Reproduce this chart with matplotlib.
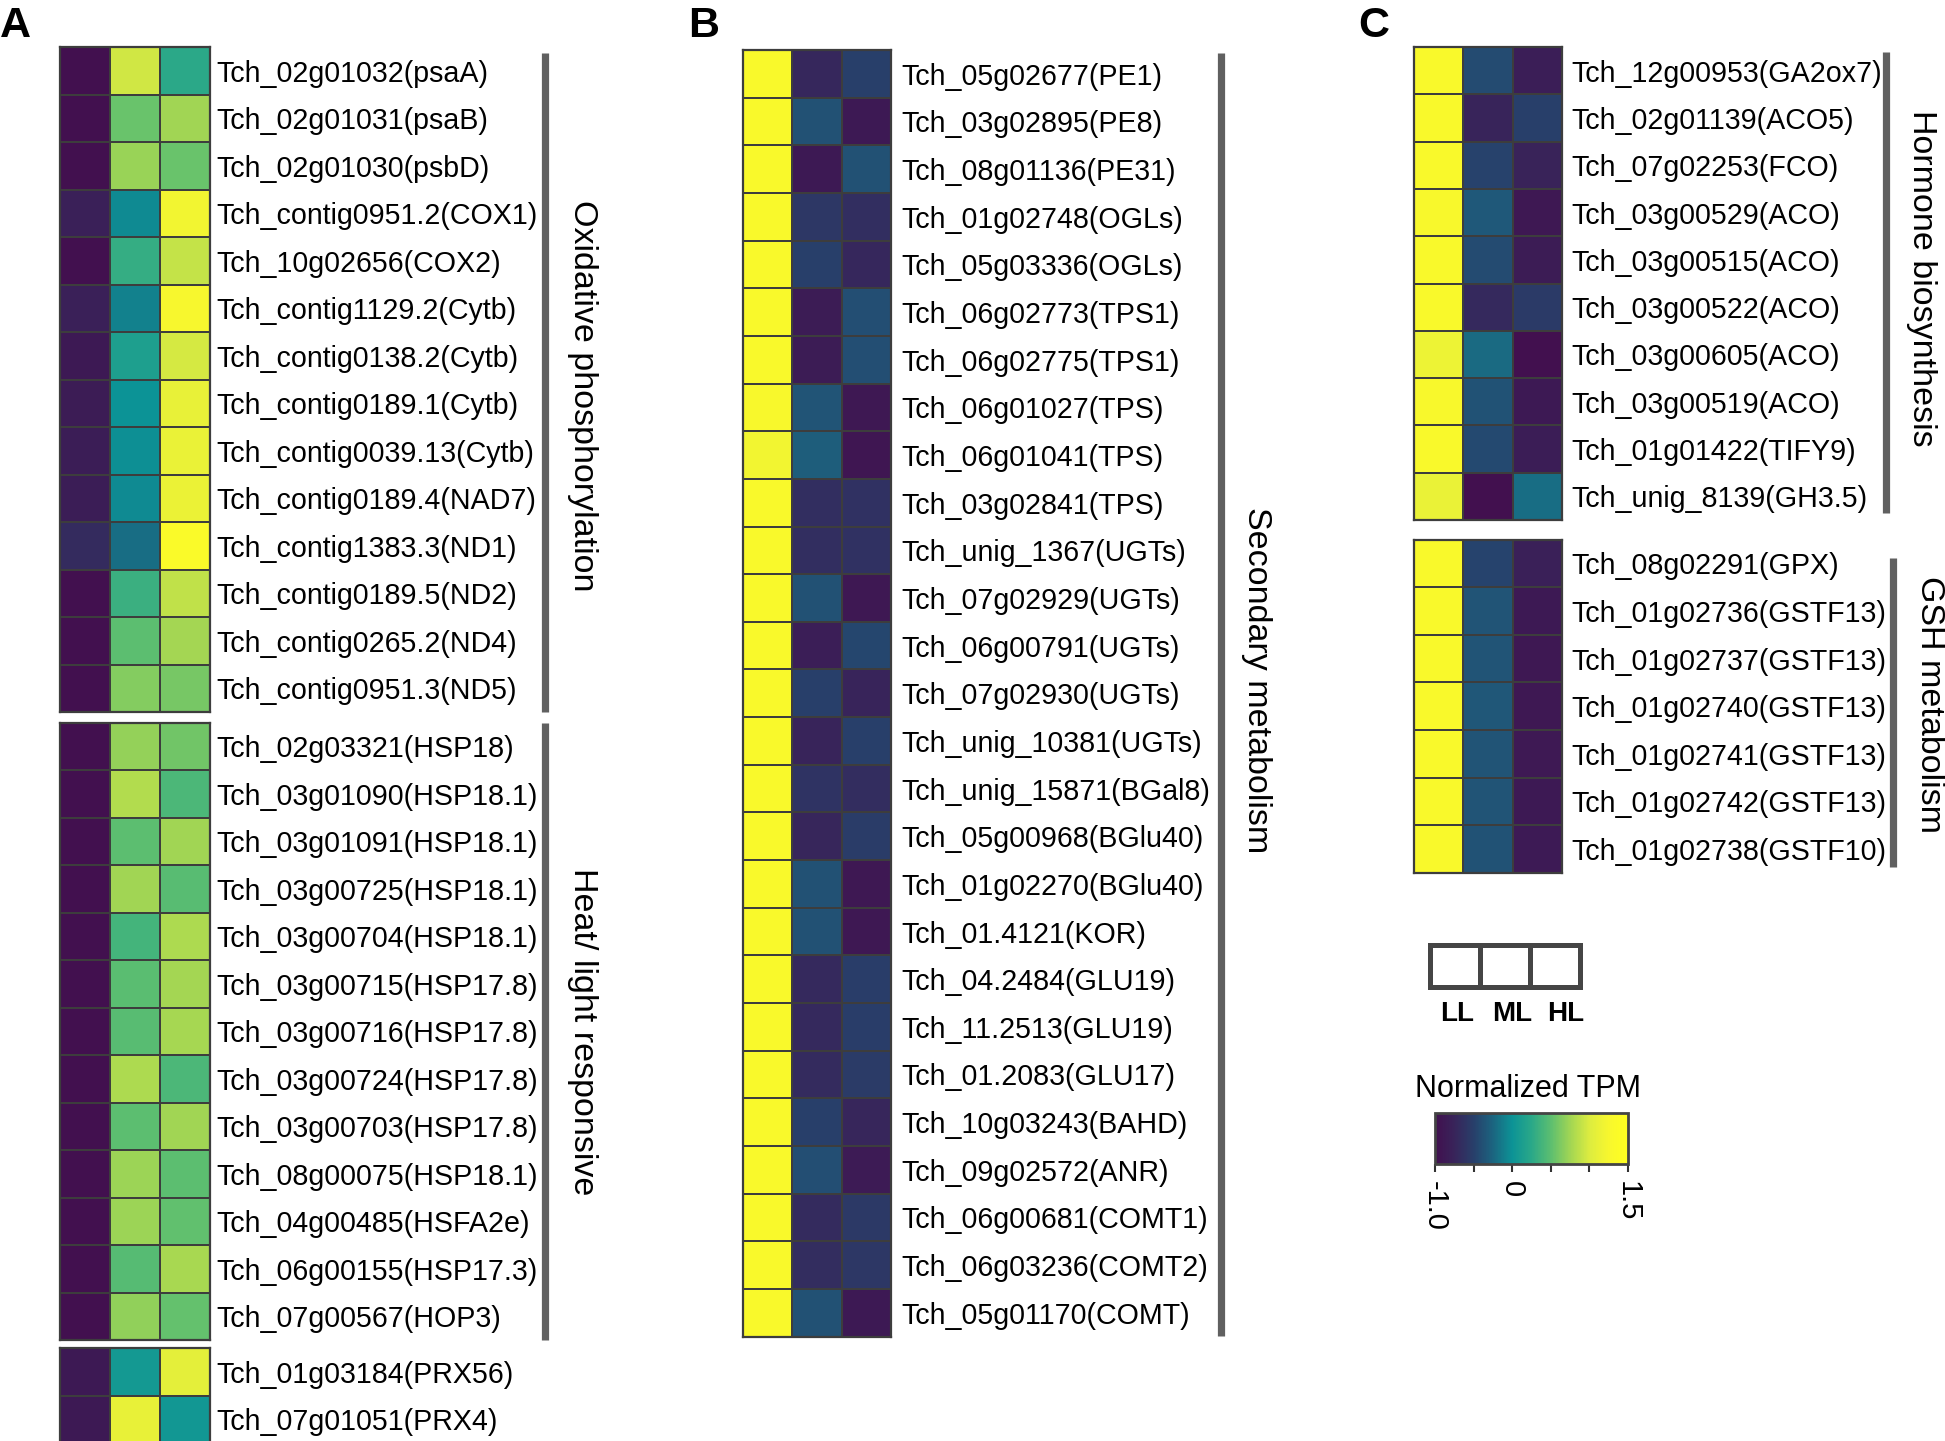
import numpy as np
import matplotlib
matplotlib.use("Agg")
import matplotlib.pyplot as plt
from matplotlib.colors import LinearSegmentedColormap, Normalize
from matplotlib.cm import ScalarMappable
from matplotlib.patches import Rectangle

plt.rcParams['font.family'] = ['Liberation Sans', 'DejaVu Sans']

# ---------------- data ----------------
conditions = ["LL", "ML", "HL"]

oxphos_genes = ["Tch_02g01032(psaA)", "Tch_02g01031(psaB)", "Tch_02g01030(psbD)",
                "Tch_contig0951.2(COX1)", "Tch_10g02656(COX2)", "Tch_contig1129.2(Cytb)",
                "Tch_contig0138.2(Cytb)", "Tch_contig0189.1(Cytb)", "Tch_contig0039.13(Cytb)",
                "Tch_contig0189.4(NAD7)", "Tch_contig1383.3(ND1)", "Tch_contig0189.5(ND2)",
                "Tch_contig0265.2(ND4)", "Tch_contig0951.3(ND5)"]
oxphos_vals = [[-1.0, 0.95, 0.25], [-1.0, 0.55, 0.75], [-1.0, 0.72, 0.55],
               [-0.80, -0.05, 1.20], [-1.0, 0.30, 0.90], [-0.80, -0.10, 1.25],
               [-0.88, 0.15, 0.97], [-0.85, 0.00, 1.10], [-0.83, -0.02, 1.12],
               [-0.83, -0.05, 1.13], [-0.68, -0.20, 1.33], [-1.0, 0.33, 0.88],
               [-1.0, 0.50, 0.76], [-1.0, 0.65, 0.60]]

heat_genes = ["Tch_02g03321(HSP18)", "Tch_03g01090(HSP18.1)", "Tch_03g01091(HSP18.1)",
              "Tch_03g00725(HSP18.1)", "Tch_03g00704(HSP18.1)", "Tch_03g00715(HSP17.8)",
              "Tch_03g00716(HSP17.8)", "Tch_03g00724(HSP17.8)", "Tch_03g00703(HSP17.8)",
              "Tch_08g00075(HSP18.1)", "Tch_04g00485(HSFA2e)", "Tch_06g00155(HSP17.3)",
              "Tch_07g00567(HOP3)"]
heat_vals = [[-1.0, 0.70, 0.58], [-1.0, 0.82, 0.42], [-1.0, 0.50, 0.75],
             [-1.0, 0.75, 0.48], [-1.0, 0.38, 0.80], [-1.0, 0.49, 0.76],
             [-1.0, 0.48, 0.77], [-1.0, 0.80, 0.42], [-1.0, 0.50, 0.75],
             [-1.0, 0.73, 0.50], [-1.0, 0.73, 0.52], [-1.0, 0.47, 0.78],
             [-1.0, 0.69, 0.53]]

prx_genes = ["Tch_01g03184(PRX56)", "Tch_07g01051(PRX4)"]
prx_vals = [[-0.88, 0.07, 1.08], [-0.88, 1.10, 0.05]]

sec_genes = ["Tch_05g02677(PE1)", "Tch_03g02895(PE8)", "Tch_08g01136(PE31)",
             "Tch_01g02748(OGLs)", "Tch_05g03336(OGLs)", "Tch_06g02773(TPS1)",
             "Tch_06g02775(TPS1)", "Tch_06g01027(TPS)", "Tch_06g01041(TPS)",
             "Tch_03g02841(TPS)", "Tch_unig_1367(UGTs)", "Tch_07g02929(UGTs)",
             "Tch_06g00791(UGTs)", "Tch_07g02930(UGTs)", "Tch_unig_10381(UGTs)",
             "Tch_unig_15871(BGal8)", "Tch_05g00968(BGlu40)", "Tch_01g02270(BGlu40)",
             "Tch_01.4121(KOR)", "Tch_04.2484(GLU19)", "Tch_11.2513(GLU19)",
             "Tch_01.2083(GLU17)", "Tch_10g03243(BAHD)", "Tch_09g02572(ANR)",
             "Tch_06g00681(COMT1)", "Tch_06g03236(COMT2)", "Tch_05g01170(COMT)"]
sec_vals = [[1.30, -0.72, -0.50], [1.30, -0.38, -0.88], [1.30, -0.88, -0.38],
            [1.30, -0.58, -0.65], [1.30, -0.50, -0.72], [1.30, -0.85, -0.40],
            [1.30, -0.85, -0.40], [1.28, -0.36, -0.90], [1.20, -0.30, -0.92],
            [1.30, -0.65, -0.62], [1.30, -0.65, -0.62], [1.30, -0.38, -0.90],
            [1.30, -0.82, -0.45], [1.30, -0.50, -0.75], [1.30, -0.75, -0.50],
            [1.30, -0.60, -0.66], [1.30, -0.73, -0.53], [1.30, -0.38, -0.90],
            [1.30, -0.38, -0.90], [1.30, -0.70, -0.52], [1.30, -0.70, -0.52],
            [1.30, -0.68, -0.54], [1.30, -0.50, -0.73], [1.30, -0.40, -0.86],
            [1.30, -0.68, -0.56], [1.30, -0.66, -0.58], [1.30, -0.38, -0.88]]

horm_genes = ["Tch_12g00953(GA2ox7)", "Tch_02g01139(ACO5)", "Tch_07g02253(FCO)",
              "Tch_03g00529(ACO)", "Tch_03g00515(ACO)", "Tch_03g00522(ACO)",
              "Tch_03g00605(ACO)", "Tch_03g00519(ACO)", "Tch_01g01422(TIFY9)",
              "Tch_unig_8139(GH3.5)"]
horm_vals = [[1.30, -0.42, -0.82], [1.30, -0.75, -0.50], [1.30, -0.48, -0.76],
             [1.28, -0.33, -0.90], [1.30, -0.42, -0.85], [1.30, -0.70, -0.55],
             [1.15, -0.22, -1.00], [1.28, -0.37, -0.88], [1.30, -0.43, -0.83],
             [1.12, -1.00, -0.20]]

gsh_genes = ["Tch_08g02291(GPX)", "Tch_01g02736(GSTF13)", "Tch_01g02737(GSTF13)",
             "Tch_01g02740(GSTF13)", "Tch_01g02741(GSTF13)", "Tch_01g02742(GSTF13)",
             "Tch_01g02738(GSTF10)"]
gsh_vals = [[1.30, -0.47, -0.80], [1.30, -0.36, -0.88], [1.30, -0.36, -0.90],
            [1.30, -0.34, -0.90], [1.30, -0.36, -0.89], [1.30, -0.36, -0.88],
            [1.30, -0.37, -0.87]]

cbar_ticks = [-1.0, -0.5, 0.0, 0.5, 1.0, 1.5]
cbar_ticklabels = ["-1.0", "", "0", "", "", "1.5"]

# ---------------- style ----------------
cmap = LinearSegmentedColormap.from_list("tpm", [
    "#42104f", "#38245a", "#283f6a", "#1b6580", "#0c9396", "#2aa888",
    "#5cbe70", "#a0d554", "#dcec40", "#f7f72e", "#ffff20"])
norm = Normalize(vmin=-1.0, vmax=1.5)
EDGE = "#3d3d3d"
BRACKET = "#606060"
LABEL_SIZE = 20.6

W, H = 1945, 1441
fig = plt.figure(figsize=(W / 100, H / 100), dpi=100)


def px_axes(x0, y0, x1, y1):
    return fig.add_axes([x0 / W, 1 - y1 / H, (x1 - x0) / W, (y1 - y0) / H])


def heat(x0, x1, y0, row_h, genes, vals, pad):
    n = len(genes)
    ax = px_axes(x0, y0, x1, y0 + n * row_h)
    ax.pcolormesh(np.array(vals), cmap=cmap, norm=norm, edgecolors=EDGE, linewidth=1.4)
    ax.set_xlim(0, 3)
    ax.set_ylim(n, 0)
    ax.set_xticks([])
    ax.set_yticks(np.arange(n) + 0.5)
    ax.set_yticklabels(genes, fontsize=LABEL_SIZE)
    ax.yaxis.tick_right()
    ax.tick_params(axis='y', length=0, pad=pad)
    for s in ax.spines.values():
        s.set_color(EDGE)
        s.set_linewidth(1.6)
    return ax


# Panel A
heat(59.5, 209.5, 47, 47.5, oxphos_genes, oxphos_vals, 5.0)
heat(59.5, 209.5, 722.5, 47.5, heat_genes, heat_vals, 5.0)
heat(59.5, 209.5, 1348, 47.5, prx_genes, prx_vals, 5.0)
# Panel B
heat(742.5, 891.3, 50, 47.65, sec_genes, sec_vals, 7.5)
# Panel C
heat(1413.5, 1562, 47, 47.3, horm_genes, horm_vals, 7)
heat(1413.5, 1562, 539.5, 47.6, gsh_genes, gsh_vals, 7)

# overlay in pixel coordinates
ov = fig.add_axes([0, 0, 1, 1])
ov.set_xlim(0, W)
ov.set_ylim(H, 0)
ov.axis('off')

brackets = [(545.5, 53, 712), (545.5, 723, 1340), (1221.5, 53, 1336),
            (1886.5, 52, 513), (1893, 558, 867)]
for x, y0, y1 in brackets:
    ov.plot([x, x], [y0, y1], color=BRACKET, lw=5.2, solid_capstyle='butt')

groups = [("Oxidative phosphorylation", 583, 396), ("Heat/ light responsive", 583, 1032),
          ("Secondary metabolism", 1257, 680), ("Hormone biosynthesis", 1922, 278),
          ("GSH metabolism", 1930, 705)]
for txt, x, y in groups:
    ov.text(x, y, txt, rotation=270, ha='center', va='center', fontsize=24.5)

for letter, x in (("A", 0), ("B", 688), ("C", 1358)):
    ov.text(x, 37, letter, fontsize=31, fontweight='bold', ha='left', va='baseline')

# condition legend
leg = px_axes(1430, 945, 1580, 987)
leg.set_xlim(0, 3)
leg.set_ylim(0, 1)
leg.axis('off')
for i, c in enumerate(conditions):
    leg.add_patch(Rectangle((i, 0), 1, 1, fc='white', ec='#454545', lw=3.6, clip_on=False))
for c, x in zip(conditions, (1457, 1512, 1566)):
    ov.text(x, 1021, c, ha='center', va='baseline', fontsize=20, fontweight='bold')

# colorbar
ov.text(1415, 1097, "Normalized TPM", ha='left', va='baseline', fontsize=22)
cax = px_axes(1435, 1113, 1628, 1164)
cb = fig.colorbar(ScalarMappable(norm=norm, cmap=cmap), cax=cax, orientation='horizontal',
                  ticks=cbar_ticks)
cb.set_ticklabels(cbar_ticklabels)
cax.tick_params(length=6, width=1.5, color='#333333', labelsize=21, labelrotation=270, pad=6)
cb.outline.set_edgecolor('#444444')
cb.outline.set_linewidth(2)

fig.savefig("out.png", dpi=100)
